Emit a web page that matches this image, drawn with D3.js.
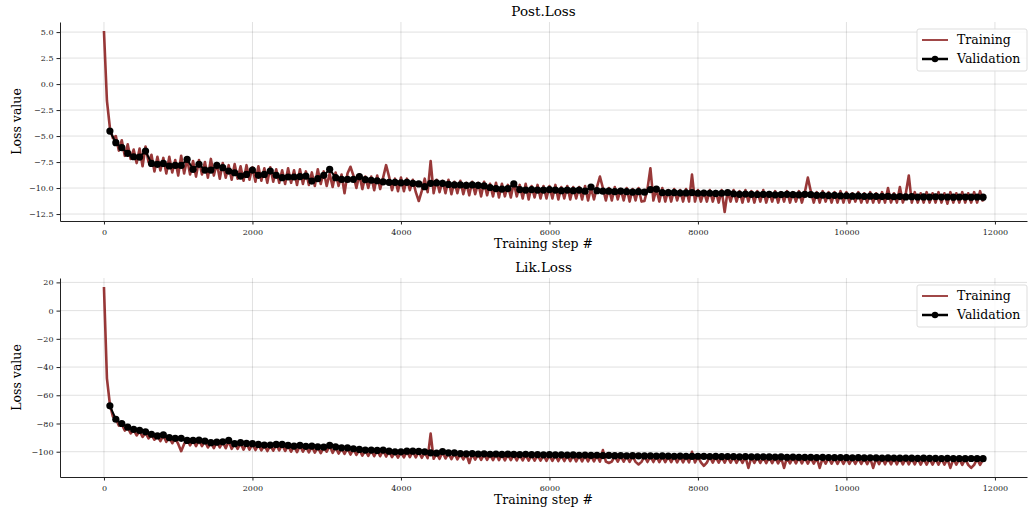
<!DOCTYPE html>
<html>
<head>
<meta charset="utf-8">
<script src="https://cdn.jsdelivr.net/npm/d3@7"></script>
<style>
  body { margin: 0; background: #fff; }
  svg { display: block; font-family: "DejaVu Serif", serif; }
</style>
</head>
<body>
<script>
// Training loss, one value every 40 steps
const trainEvery = 40;
const valEvery = 80;

const postTrain = [
  5.1, -1.6, -4.2, -5.2, -5.0, -6.4, -5.4, -6.9, -5.8, -7.2,
  -6.3, -7.6, -6.2, -7.9, -6.0, -7.5, -6.8, -8.4, -7.0, -8.3,
  -7.1, -8.6, -7.0, -8.5, -7.3, -8.8, -6.9, -8.6, -7.2, -8.7,
  -7.4, -8.9, -7.3, -8.7, -7.5, -9.0, -7.2, -8.8, -7.6, -9.1,
  -7.6, -9.0, -7.8, -9.2, -7.7, -9.1, -7.9, -9.3, -7.8, -9.2,
  -8.0, -9.4, -7.9, -9.3, -8.1, -9.5, -8.0, -9.4, -8.2, -9.5,
  -8.3, -9.6, -8.1, -9.5, -8.3, -9.7, -8.2, -9.6, -8.4, -9.7,
  -8.5, -9.8, -8.2, -9.6, -8.4, -9.8, -8.6, -9.9, -8.5, -9.8,
  -8.7, -10.5, -8.6, -7.95, -8.8, -10.0, -8.7, -10.1, -8.9, -10.0,
  -8.9, -10.2, -8.8, -10.1, -9.0, -7.8, -8.9, -10.2, -9.1, -10.3,
  -9.0, -10.3, -9.1, -10.2, -9.2, -10.4, -11.25, -10.3, -9.1, -10.4,
  -7.4, -10.5, -9.2, -10.4, -9.3, -10.5, -9.2, -10.6, -9.4, -10.5,
  -9.3, -10.6, -9.5, -10.7, -9.4, -10.6, -9.5, -10.8, -9.4, -10.7,
  -9.6, -10.8, -9.5, -10.9, -9.6, -10.8, -9.7, -10.9, -9.5, -10.8,
  -9.7, -11.0, -9.6, -11.1, -9.8, -10.9, -9.7, -11.0, -9.8, -11.0,
  -9.8, -11.0, -9.7, -11.1, -9.9, -11.0, -9.8, -11.1, -9.9, -11.0,
  -9.9, -11.1, -9.8, -11.2, -10.0, -11.1, -9.9, -8.9, -10.0, -11.2,
  -10.0, -11.2, -9.9, -11.1, -10.1, -11.2, -10.0, -11.3, -10.1, -11.2,
  -10.0, -11.3, -11.24, -10.1, -8.1, -11.2, -10.1, -11.3, -10.0, -11.3,
  -10.2, -11.3, -10.1, -11.2, -10.2, -11.3, -10.1, -11.3, -8.7, -11.3,
  -10.2, -11.3, -10.3, -11.3, -10.2, -11.3, -10.3, -11.4, -10.2, -12.3,
  -10.3, -11.3, -10.2, -11.3, -10.3, -11.4, -10.2, -11.3, -10.3, -11.4,
  -10.3, -11.3, -10.2, -11.4, -10.4, -11.3, -10.3, -11.4, -10.4, -11.3,
  -10.3, -11.4, -10.4, -11.3, -10.3, -11.4, -10.4, -9.0, -10.3, -11.4,
  -10.4, -11.4, -10.3, -11.3, -10.4, -11.4, -10.4, -11.4, -10.3, -11.4,
  -10.4, -11.4, -10.5, -11.3, -10.4, -11.4, -10.5, -11.4, -10.4, -11.4,
  -10.5, -11.4, -10.4, -11.4, -10.0, -11.4, -10.5, -11.4, -9.9, -11.4,
  -10.5, -8.8, -11.4, -10.4, -11.4, -10.5, -11.4, -10.4, -11.4, -10.5,
  -11.4, -10.4, -11.4, -10.5, -11.5, -10.4, -11.4, -10.5, -11.4, -10.4,
  -11.4, -10.5, -11.4, -10.4, -11.4, -10.3, -11.3
];

// Validation loss, one value every 80 steps starting at step 80
const postVal = [
  -4.52, -5.64, -6.12, -6.67, -6.99, -7.02, -6.44, -7.63, -7.72, -7.63,
  -7.88, -7.82, -7.82, -7.24, -8.2, -7.72, -8.27, -8.27, -7.82, -8.04,
  -8.37, -8.53, -8.85, -8.69, -8.27, -8.78, -8.69, -8.37, -8.78, -9.0,
  -8.94, -8.94, -8.9, -8.85, -9.33, -9.1, -8.78, -8.2, -9.0, -9.17,
  -9.17, -9.17, -8.9, -9.2, -9.25, -9.3, -9.4, -9.45, -9.45, -9.5,
  -9.45, -9.55, -9.6, -9.87, -9.55, -9.5, -9.55, -9.65, -9.7, -9.7,
  -9.75, -9.7, -9.75, -9.8, -9.95, -10.05, -10.1, -10.05, -9.6, -10.15,
  -10.2, -10.15, -10.2, -10.2, -10.15, -10.2, -10.25, -10.2, -10.25, -10.2,
  -10.3, -9.9, -10.25, -10.3, -10.3, -10.35, -10.3, -10.35, -10.4, -10.35,
  -10.4, -10.15, -10.1, -10.45, -10.45, -10.45, -10.48, -10.47, -10.45, -10.5,
  -10.48, -10.5, -10.52, -10.5, -10.45, -10.55, -10.6, -10.58, -10.6, -10.62,
  -10.6, -10.6, -10.65, -10.62, -10.6, -10.64, -10.65, -10.6, -10.64, -10.7,
  -10.68, -10.72, -10.7, -10.75, -10.74, -10.78, -10.76, -10.8, -10.78, -10.8,
  -10.82, -10.8, -10.84, -10.82, -10.85, -10.83, -10.86, -10.85, -10.86, -10.84,
  -10.87, -10.86, -10.88, -10.86, -10.87, -10.88, -10.86, -10.88
];

const likTrain = [
  16.7, -48.0, -66.5, -75.0, -76.5, -81.5, -80.5, -85.0, -83.0, -87.0,
  -84.5, -88.5, -85.5, -89.5, -86.5, -90.5, -88.0, -91.5, -88.8, -92.5,
  -88.5, -93.0, -90.0, -94.0, -90.5, -94.5, -99.6, -94.5, -91.0, -95.5,
  -92.0, -96.0, -92.0, -96.0, -92.5, -97.0, -93.5, -97.5, -93.0, -97.0,
  -93.0, -97.5, -92.5, -98.0, -94.0, -98.0, -93.8, -98.5, -94.2, -98.5,
  -94.5, -98.8, -95.0, -99.0, -95.3, -99.5, -95.5, -99.3, -95.0, -99.0,
  -95.0, -99.5, -95.8, -100.0, -96.0, -100.3, -95.7, -100.0, -96.3, -100.5,
  -96.2, -100.6, -96.7, -101.0, -97.0, -100.0, -95.8, -100.8, -96.8, -101.3,
  -97.4, -101.5, -97.5, -102.0, -98.0, -102.3, -98.6, -102.8, -99.0, -103.0,
  -99.0, -103.2, -99.3, -103.2, -99.0, -103.4, -99.8, -103.8, -100.3, -104.2,
  -100.3, -104.0, -99.8, -103.8, -99.8, -104.0, -100.0, -104.3, -100.3, -104.6,
  -87.2, -105.0, -101.2, -105.0, -100.2, -104.8, -101.0, -105.2, -101.0, -105.4,
  -101.5, -105.5, -101.7, -108.0, -101.5, -105.6, -101.8, -105.8, -101.7, -105.8,
  -102.0, -106.0, -101.8, -105.9, -102.1, -106.1, -101.9, -106.0, -102.2, -106.2,
  -102.0, -106.2, -102.3, -106.3, -102.2, -106.4, -102.4, -106.3, -102.3, -106.5,
  -102.4, -106.5, -102.5, -106.6, -102.4, -106.6, -102.6, -106.7, -102.5, -106.8,
  -102.7, -106.8, -102.6, -106.9, -102.8, -106.9, -102.7, -107.0, -98.8, -107.0,
  -108.0, -107.0, -102.9, -107.1, -103.0, -107.1, -102.9, -107.2, -103.1, -107.2,
  -109.0, -107.2, -103.2, -107.3, -103.1, -107.3, -103.2, -107.4, -103.3, -107.4,
  -103.3, -107.4, -103.2, -107.5, -103.4, -107.5, -103.3, -107.6, -100.0, -107.6,
  -103.5, -107.6, -110.0, -107.7, -103.5, -107.7, -103.6, -107.8, -103.6, -107.8,
  -103.7, -107.8, -103.6, -107.9, -103.8, -107.9, -103.7, -111.5, -103.9, -108.0,
  -103.8, -108.0, -104.0, -108.1, -103.9, -108.1, -104.0, -108.2, -104.1, -111.5,
  -104.0, -108.2, -104.2, -108.3, -104.1, -108.3, -104.2, -108.4, -104.3, -108.4,
  -104.2, -111.5, -104.3, -108.5, -104.4, -108.5, -104.3, -108.6, -104.5, -108.6,
  -104.4, -108.6, -104.5, -108.7, -104.6, -108.7, -104.5, -108.8, -104.6, -111.5,
  -104.7, -108.8, -104.6, -108.9, -104.7, -108.9, -104.8, -108.9, -104.7, -109.0,
  -104.8, -109.0, -104.9, -109.0, -104.8, -109.1, -104.9, -109.1, -105.0, -109.1,
  -104.9, -109.2, -105.0, -109.2, -105.1, -111.5, -105.0, -109.2, -105.1, -109.3,
  -105.0, -109.3, -111.5, -109.3, -105.1, -109.3, -105.5
];

const likVal = [
  -67.5, -77.0, -80.0, -82.6, -84.2, -84.9, -85.9, -87.6, -88.8, -88.1,
  -90.0, -90.5, -90.5, -92.0, -92.0, -91.8, -92.4, -93.6, -93.2, -93.0,
  -92.0, -94.3, -93.6, -94.1, -94.3, -94.8, -95.3, -95.3, -94.8, -94.8,
  -95.5, -96.0, -95.5, -96.2, -96.0, -96.5, -96.7, -95.5, -96.5, -97.2,
  -97.2, -97.9, -98.4, -98.8, -98.8, -99.1, -98.8, -99.6, -100.1, -100.1,
  -99.6, -99.6, -99.8, -100.1, -100.8, -101.0, -99.9, -100.8, -100.8, -101.3,
  -101.5, -101.3, -101.6, -101.5, -101.8, -101.6, -101.9, -101.7, -101.9, -102.0,
  -101.8, -102.1, -102.0, -102.2, -102.1, -102.3, -102.2, -102.4, -102.3, -102.5,
  -102.4, -102.6, -102.5, -102.7, -102.6, -102.8, -102.7, -102.9, -102.8, -102.9,
  -103.0, -102.9, -103.1, -103.0, -103.1, -103.2, -103.1, -103.2, -103.3, -103.2,
  -103.3, -103.4, -103.3, -103.5, -103.4, -103.5, -103.6, -103.5, -103.6, -103.7,
  -103.6, -103.7, -103.8, -103.7, -103.9, -103.8, -103.9, -104.0, -103.9, -104.1,
  -104.0, -104.1, -104.2, -104.1, -104.2, -104.3, -104.2, -104.4, -104.3, -104.4,
  -104.5, -104.4, -104.5, -104.6, -104.5, -104.6, -104.7, -104.6, -104.7, -104.7,
  -104.8, -104.7, -104.8, -104.8, -104.9, -104.8, -104.8, -104.9
];

// Tick labels
const xTicks = [0, 2000, 4000, 6000, 8000, 10000, 12000];
const postYTicks = [-12.5, -10.0, -7.5, -5.0, -2.5, 0.0, 2.5, 5.0];
const likYTicks = [-100, -80, -60, -40, -20, 0, 20];

const width = 1030;
const height = 514;
const marginLeft = 60;
const marginRight = 3;
const trainColor = "#8f2727";

const svg = d3.select("body")
  .append("svg")
  .attr("width", width)
  .attr("height", height)
  .attr("viewBox", [0, 0, width, height]);

const minus = s => s.replace("-", "\u2212");

function drawPanel({ title, train, val, yTicks, yFormat, top, bottom }) {
  const trainPts = train.map((v, i) => [i * trainEvery, v]);
  const valPts = val.map((v, i) => [(i + 1) * valEvery, v]);

  // matplotlib-like 5% margins around the data
  const xMax = d3.max(trainPts, d => d[0]);
  const [yMin, yMax] = d3.extent(train.concat(val));
  const xPad = xMax * 0.05;
  const yPad = (yMax - yMin) * 0.05;

  const x = d3.scaleLinear()
    .domain([-xPad, xMax + xPad])
    .range([marginLeft, width - marginRight]);

  const y = d3.scaleLinear()
    .domain([yMin - yPad, yMax + yPad])
    .range([bottom, top]);

  const g = svg.append("g");

  // grid
  g.append("g")
    .selectAll("line")
    .data(yTicks)
    .join("line")
    .attr("x1", marginLeft)
    .attr("x2", width - marginRight)
    .attr("y1", d => y(d))
    .attr("y2", d => y(d))
    .attr("stroke", "#000")
    .attr("stroke-opacity", 0.12);

  g.append("g")
    .selectAll("line")
    .data(xTicks)
    .join("line")
    .attr("x1", d => x(d))
    .attr("x2", d => x(d))
    .attr("y1", top)
    .attr("y2", bottom)
    .attr("stroke", "#000")
    .attr("stroke-opacity", 0.12);

  // training line (dense, so drawn a bit heavier)
  g.append("path")
    .attr("fill", "none")
    .attr("stroke", trainColor)
    .attr("stroke-width", 2.6)
    .attr("stroke-opacity", 0.92)
    .attr("stroke-linejoin", "round")
    .attr("d", d3.line().x(d => x(d[0])).y(d => y(d[1]))(trainPts));

  // validation line with markers
  g.append("path")
    .attr("fill", "none")
    .attr("stroke", "#000")
    .attr("stroke-width", 2)
    .attr("d", d3.line().x(d => x(d[0])).y(d => y(d[1]))(valPts));

  g.append("g")
    .selectAll("circle")
    .data(valPts)
    .join("circle")
    .attr("cx", d => x(d[0]))
    .attr("cy", d => y(d[1]))
    .attr("r", 3.6)
    .attr("fill", "#000");

  // axes
  const xAxis = g.append("g")
    .attr("transform", `translate(0,${bottom})`)
    .call(d3.axisBottom(x).tickValues(xTicks).tickFormat(d3.format("d")).tickSize(3.5).tickSizeOuter(0));

  const yAxis = g.append("g")
    .attr("transform", `translate(${marginLeft},0)`)
    .call(d3.axisLeft(y).tickValues(yTicks).tickFormat(d => minus(yFormat(d))).tickSize(3.5).tickSizeOuter(0));

  [xAxis, yAxis].forEach(a => {
    a.select(".domain").attr("stroke", "#222").attr("stroke-width", 1);
    a.selectAll(".tick line").attr("stroke", "#222");
    a.selectAll(".tick text")
      .attr("fill", "#222")
      .style("font-size", "8px")
      .style("font-family", "DejaVu Serif, serif");
  });
  xAxis.selectAll(".tick text").attr("dy", "0.95em");

  // title and labels
  g.append("text")
    .attr("x", (marginLeft + width - marginRight) / 2)
    .attr("y", top - 6)
    .attr("text-anchor", "middle")
    .style("font-size", "13.5px")
    .text(title);

  g.append("text")
    .attr("x", (marginLeft + width - marginRight) / 2)
    .attr("y", bottom + 27)
    .attr("text-anchor", "middle")
    .style("font-size", "12.5px")
    .text("Training step #");

  g.append("text")
    .attr("transform", `translate(21,${(top + bottom) / 2}) rotate(-90)`)
    .attr("text-anchor", "middle")
    .style("font-size", "12.5px")
    .text("Loss value");

  // legend
  const lg = g.append("g")
    .attr("transform", `translate(${width - marginRight - 110},${top + 7})`);

  lg.append("rect")
    .attr("width", 110)
    .attr("height", 42)
    .attr("rx", 2)
    .attr("fill", "#fff")
    .attr("fill-opacity", 0.8)
    .attr("stroke", "#ddd");

  lg.append("line")
    .attr("x1", 5).attr("x2", 31)
    .attr("y1", 11).attr("y2", 11)
    .attr("stroke", trainColor)
    .attr("stroke-opacity", 0.85)
    .attr("stroke-width", 2);

  lg.append("line")
    .attr("x1", 5).attr("x2", 31)
    .attr("y1", 30).attr("y2", 30)
    .attr("stroke", "#000")
    .attr("stroke-width", 2.5);

  lg.append("circle")
    .attr("cx", 18).attr("cy", 30).attr("r", 3.2)
    .attr("fill", "#000");

  lg.append("text")
    .attr("x", 40).attr("y", 15)
    .style("font-size", "12.5px")
    .text("Training");

  lg.append("text")
    .attr("x", 40).attr("y", 34)
    .style("font-size", "12.5px")
    .text("Validation");
}

drawPanel({
  title: "Post.Loss",
  train: postTrain,
  val: postVal,
  yTicks: postYTicks,
  yFormat: d3.format(".1f"),
  top: 22,
  bottom: 221
});

drawPanel({
  title: "Lik.Loss",
  train: likTrain,
  val: likVal,
  yTicks: likYTicks,
  yFormat: d3.format("d"),
  top: 278,
  bottom: 477
});
</script>
</body>
</html>
